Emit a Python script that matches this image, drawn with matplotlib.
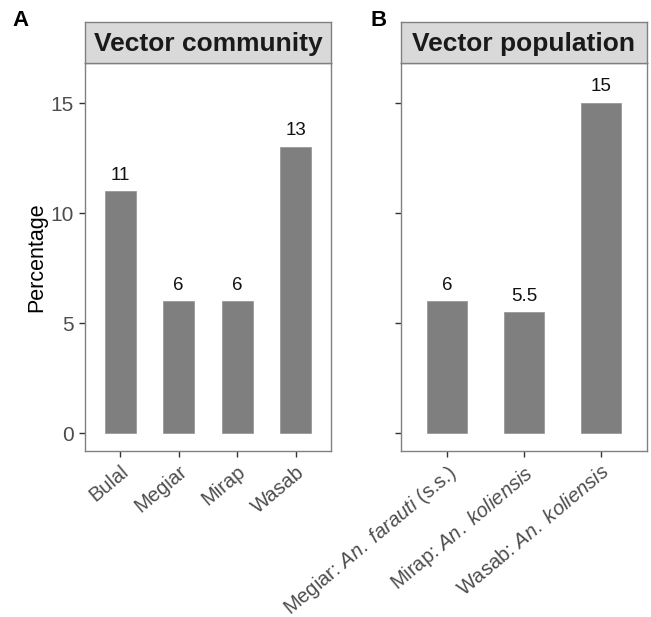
import matplotlib

matplotlib.use("Agg")
import matplotlib.pyplot as plt

plt.rcParams["font.family"] = ["Liberation Sans", "DejaVu Sans"]
plt.rcParams["mathtext.fontset"] = "custom"
plt.rcParams["mathtext.rm"] = "Liberation Sans"
plt.rcParams["mathtext.it"] = "Liberation Sans:italic"

# infection percentages per site (A) and per site/species (B)
community_sites = ["Bulal", "Megiar", "Mirap", "Wasab"]
community_pct = [11, 6, 6, 13]

population_labels = [
    r"Megiar: $\mathit{An.\ farauti}$ (s.s.)",
    r"Mirap: $\mathit{An.\ koliensis}$",
    r"Wasab: $\mathit{An.\ koliensis}$",
]
population_pct = [6, 5.5, 15]
population_text = ["6", "5.5", "15"]

panel_titles = ["Vector community", "Vector population"]
panel_letters = ["A", "B"]
y_ticks = [0, 5, 10, 15]

BAR = "#7f7f7f"
EDGE = "#999999"
FRAME = "#808080"
STRIP = "#d9d9d9"

fig = plt.figure(figsize=(6.51, 6.17), dpi=100)
W, H = 651, 617


def px_axes(left, top, right, bottom):
    return fig.add_axes([left / W, 1 - bottom / H, (right - left) / W, (bottom - top) / H])


def draw_panel(ax, strip, labels, values, texts, title, width, show_y):
    x = list(range(len(values)))
    ax.bar(x, values, width=width, color=BAR, edgecolor=EDGE, linewidth=0.6)
    for xi, v, t in zip(x, values, texts):
        ax.annotate(t, (xi, v), xytext=(0, 8.5), textcoords="offset points",
                    ha="center", va="baseline", fontsize=13.5, color="#111111")
    ax.set_xlim(-0.6, len(values) - 0.4)
    ax.set_ylim(-0.8, 16.83)
    ax.set_yticks(y_ticks)
    ax.set_xticks(x)
    ax.set_xticklabels(labels, rotation=40, ha="right", va="top",
                       rotation_mode="anchor", fontsize=14.5, color="#4d4d4d")
    if show_y:
        ax.set_yticklabels([str(t) for t in y_ticks], fontsize=15, color="#4d4d4d")
        ax.set_ylabel("Percentage", fontsize=15.5, labelpad=2)
    else:
        ax.set_yticklabels([])
    ax.tick_params(length=4, width=1, color="#333333", pad=4)
    for sp in ax.spines.values():
        sp.set_color(FRAME)
        sp.set_linewidth(1)

    strip.set_facecolor(STRIP)
    strip.set_xticks([])
    strip.set_yticks([])
    for sp in strip.spines.values():
        sp.set_color(FRAME)
        sp.set_linewidth(1)
    strip.text(0.5, 0.46, title, transform=strip.transAxes, ha="center", va="center",
               fontsize=19, fontweight="bold", color="#1a1a1a")


ax_a = px_axes(85, 63, 331, 451)
strip_a = px_axes(85, 22, 331, 63)
ax_b = px_axes(401, 63, 647, 451)
strip_b = px_axes(401, 22, 647, 63)

draw_panel(ax_a, strip_a, community_sites, community_pct,
           [str(v) for v in community_pct], panel_titles[0], 0.53, True)
draw_panel(ax_b, strip_b, population_labels, population_pct,
           population_text, panel_titles[1], 0.52, False)

fig.text(12 / W, 1 - 20 / H, panel_letters[0], fontsize=16, fontweight="bold", va="center")
fig.text(370 / W, 1 - 20 / H, panel_letters[1], fontsize=16, fontweight="bold", va="center")

fig.savefig("out.png", dpi=100, facecolor="white")
